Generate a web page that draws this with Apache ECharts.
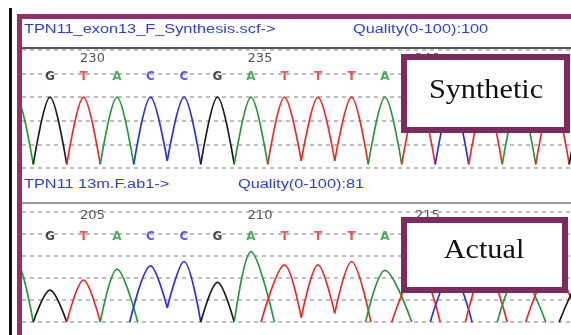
<!DOCTYPE html>
<html>
<head>
<meta charset="utf-8">
<script src="https://cdn.jsdelivr.net/npm/echarts@6/dist/echarts.min.js"></script>
<style>
html,body{margin:0;padding:0;background:#fff;}
#chart{width:571px;height:335px;}
</style>
</head>
<body>
<div id="chart"></div>
<script>
// upper trace: TPN11_exon13_F_Synthesis.scf
const topStart = 228
const topBases = ['A','G','T','A','C','C','G','A','T','T','T','A','T','C','T','A','T','G']
const topHeights = [60,60,60,60,60,60,60,60,60,60,60,60,60,60,60,60,60,60]
// level where two neighbouring peaks meet, and how far they run past each other
const topValleys = [3,3,3,3,6,3,3,3,6,6,3,3,3,3,3,3,3]
const topCross = [0,0,0,0,0,0,0,0,0,0,0,0,0,0,0,0,0]
const topTicks = [230,235,240]

// lower trace: TPN11 13m.F.ab1
const bottomStart = 203
const bottomBases = ['A','G','T','A','C','C','G','A','T','T','T','A','T','C','T','A','T','G']
const bottomHeights = [55,29,38,48,51,55,36,64,52,52,55,47,50,45,50,45,50,45]
const bottomValleys = [0,0,0,0,13,0,0,0,4,8,0,0,0,0,0,0,0]
const bottomCross = [0,0,0,0.12,0,0,0,0.2,0,0,0.08,0.3,0.15,0.1,0.15,0.3,0.3]
const bottomTicks = [205,210,215]

const baseColors = {G:'#1c1c1c', T:'#ec2a25', A:'#26983a', C:'#2b2fe2'}

function peakSeries(start, bases, heights, valleys, cross, idx){
    return bases.map((b, i) => {
        let x = start + i
        let left, right
        if (i === 0) left = [x - 0.5, 0]
        else left = cross[i-1] > 0 ? [x - 0.5 - cross[i-1], 0] : [x - 0.5, valleys[i-1]]
        if (i === bases.length - 1) right = [x + 0.5, 0]
        else right = cross[i] > 0 ? [x + 0.5 + cross[i], 0] : [x + 0.5, valleys[i]]
        return {
            type: 'line', xAxisIndex: idx, yAxisIndex: idx,
            data: [left, [x, heights[i]], right],
            smooth: 0.35, symbol: 'none', silent: true,
            lineStyle: {color: baseColors[b], width: 1.7}
        }
    })
}

function letterSeries(start, bases, y, idx){
    return {
        type: 'scatter', xAxisIndex: idx, yAxisIndex: idx, symbolSize: 0, silent: true,
        data: bases.map((b, i) => ({name: b, value: [start + i, y], label: {color: baseColors[b]}})),
        label: {show: true, position: 'inside', formatter: '{b}', fontFamily: 'DejaVu Sans', fontSize: 12, fontWeight: 'bold'}
    }
}

function tickSeries(ticks, y, idx){
    return {
        type: 'scatter', xAxisIndex: idx, yAxisIndex: idx, symbolSize: 0, silent: true,
        data: ticks.map(t => ({name: String(t), value: [t, y]})),
        label: {show: true, position: 'inside', offset: [9, 0], formatter: '{b}', color: '#2a2a2a', fontFamily: 'DejaVu Sans', fontSize: 13}
    }
}

function headerText(txt, x, y){
    return {type: 'text', x: x, y: y, scaleX: 1.36, z: 50,
        style: {text: txt, fill: '#2f3ed8', font: '12px "Liberation Sans"', textVerticalAlign: 'middle', verticalAlign: 'middle'}}
}

function labelBox(txt, x, y, w, h, cx, cy){
    return [
        {type: 'rect', z: 60, shape: {x: x, y: y, width: w, height: h},
            style: {fill: '#fff', stroke: '#7d2b5e', lineWidth: 6}},
        {type: 'text', x: cx, y: cy, scaleX: 1.12, z: 61,
            style: {text: txt, fill: '#111', font: '27px "Liberation Serif"',
                textAlign: 'center', align: 'center', textVerticalAlign: 'middle', verticalAlign: 'middle'}}
    ]
}

let mycharts = echarts.init(document.getElementById('chart'))
let dashed = {show: true, lineStyle: {color: '#a9a9a9', type: [4, 4], width: 1.5}}
let yAxisBase = {type: 'value', min: 0, max: 100, interval: 20, axisLabel: {show: false},
    axisLine: {show: false}, axisTick: {show: false}, splitLine: dashed}

let option = {
    backgroundColor: '#fff',
    animation: false,
    grid: [
        {left: 22, right: 0, top: 50, height: 118},
        {left: 22, right: 0, top: 212, height: 110}
    ],
    xAxis: [
        {type: 'value', gridIndex: 0, min: 228.164, max: 244.552, show: false},
        {type: 'value', gridIndex: 1, min: 203.164, max: 219.552, show: false}
    ],
    yAxis: [
        Object.assign({gridIndex: 0}, yAxisBase),
        Object.assign({gridIndex: 1}, yAxisBase)
    ],
    series: [].concat(
        peakSeries(topStart, topBases, topHeights, topValleys, topCross, 0),
        peakSeries(bottomStart, bottomBases, bottomHeights, bottomValleys, bottomCross, 1),
        [letterSeries(topStart, topBases, 77, 0), letterSeries(bottomStart, bottomBases, 77, 1),
         tickSeries(topTicks, 93, 0), tickSeries(bottomTicks, 97, 1)]
    ),
    graphic: [].concat(
        [
            {type: 'rect', z: 50, shape: {x: 9, y: 8, width: 3, height: 327}, style: {fill: '#111'}},
            {type: 'rect', z: 50, shape: {x: 17, y: 14, width: 554, height: 5}, style: {fill: '#962f68'}},
            {type: 'rect', z: 50, shape: {x: 17, y: 14, width: 5, height: 321}, style: {fill: '#962f68'}},
            {type: 'rect', z: 50, shape: {x: 22, y: 47, width: 549, height: 2}, style: {fill: '#555'}},
            {type: 'rect', z: 50, shape: {x: 22, y: 202, width: 549, height: 2}, style: {fill: '#9a9a9a'}},
            headerText('TPN11_exon13_F_Synthesis.scf->', 24, 30),
            headerText('Quality(0-100):100', 353, 30),
            headerText('TPN11 13m.F.ab1->', 24, 185),
            headerText('Quality(0-100):81', 238, 185)
        ],
        labelBox('Synthetic', 404, 57, 163, 73, 486, 91),
        labelBox('Actual', 404, 220, 161, 70, 484, 251)
    )
}
mycharts.setOption(option, true)
window.addEventListener('resize', () => mycharts.resize())
</script>
</body>
</html>
